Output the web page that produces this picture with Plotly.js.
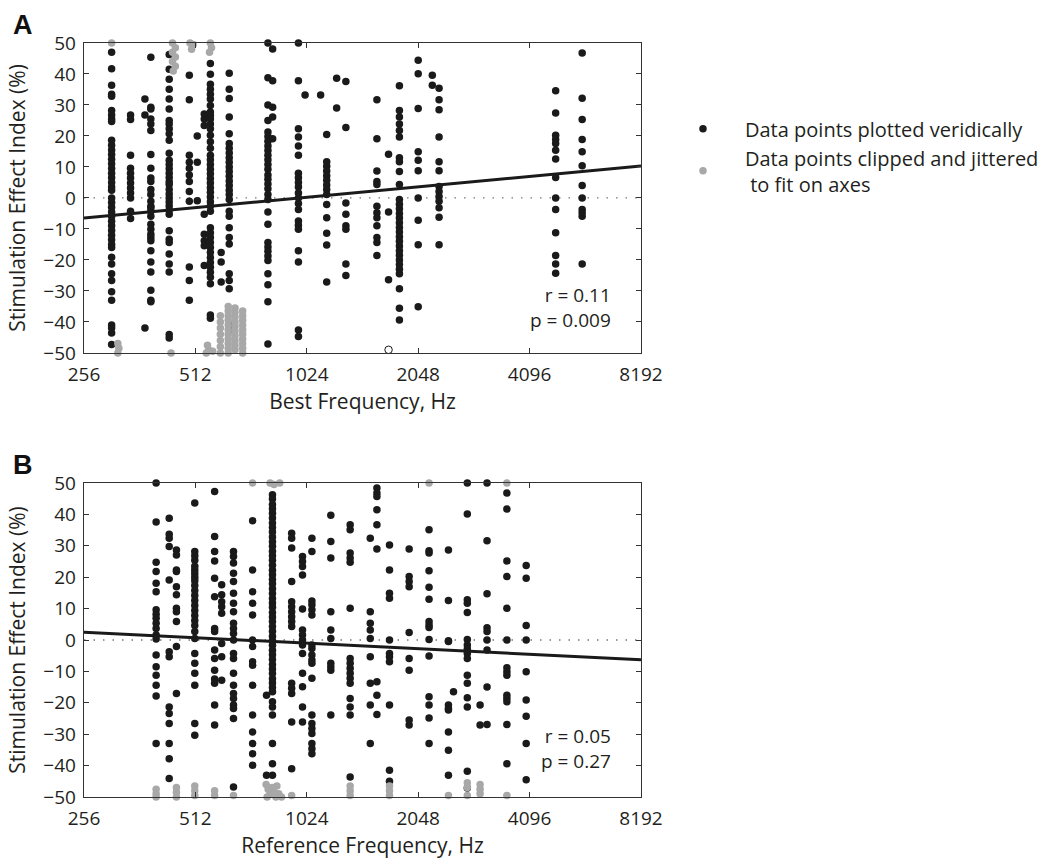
<!DOCTYPE html>
<html>
<head>
<meta charset="utf-8">
<script src="https://cdn.plot.ly/plotly-3.0.1.min.js"></script>
<style>html,body{margin:0;padding:0;background:#fff;overflow:hidden;width:1040px;height:859px;}#chart{width:1080px;height:859px;}</style>
</head>
<body>
<div id="chart"></div>
<script>
// ---------- tick labels ----------
const xTickVals = [256, 512, 1024, 2048, 4096, 8192];
const xTickText = ['256', '512', '1024', '2048', '4096', '8192'];
const yTickVals = [-50, -40, -30, -20, -10, 0, 10, 20, 30, 40, 50];

// ---------- Panel A: veridical points (column frequency, values) ----------
const aFreq = [304, 342, 374, 388, 435, 493, 518, 541, 562, 601, 632, 804, 828, 972, 1013, 1116, 1159, 1233, 1306, 1584, 1703, 1822, 2048, 2236, 2332, 4817, 5681];
const aVals = [
  [47, 41.7, 36.4, 33.5, 32.8, 28.2, 26.8, 25.5, 24.7, 18.6, 17, 15.5, 14, 12.5, 11, 9.5, 8, 6.5, 5, 3.5, 2.5, 0, -1.5, -3, -4.5, -6, -7.5, -9, -10.5, -12, -13.5, -15, -16, -19.1, -21.3, -24.5, -26.6, -30.3, -33, -41, -42, -43.6, -47.3],
  [26.8, 25.3, 13.8, 9.6, 8, 6.4, 4.8, 3.2, 1.6, 0, -4.3, -6.6],
  [31.9, 26.8, -42],
  [45.4, 29.3, 28.7, 25.5, 23.9, 21.8, 14, 9.6, 6.4, 5.3, 2.7, 1.1, -1.1, -2.7, -3.2, -4.3, -5.9, -8.5, -10.1, -11.7, -12.8, -13.8, -17, -20.7, -23.9, -29.8, -33, -33.5],
  [46.3, 41.5, 38.3, 35.1, 31.9, 28.7, 25, 23.9, 22.3, 20.7, 18.6, 14.4, 12.2, 10.8, 9.4, 8, 6.6, 5.2, 4.3, 2.7, 1.3, 0, -1.3, -2.6, -4, -5.3, -10.6, -13.3, -14.4, -18.1, -21.3, -23.9, -44.1, -45.2],
  [39.6, 31.7, 13.8, 11.5, 9.6, 7.4, 5.3, 2.1, -1.1, -22.3, -26.6, -33],
  [20, 11.5, -0.9],
  [27.1, 25.5, 23.4, -5.3, -11.7, -13.8, -15.4, -21.8],
  [43.4, 39.9, 36.7, 35.1, 33.5, 31.9, 29.8, 27.7, 26.6, 25.5, 23.9, 22.3, 20.2, 18.1, 16, 13.8, 12.3, 10.8, 9.3, 7.8, 6.3, 4.8, 3.3, 1.8, 0.3, -1.2, -2.7, -4.3, -9.6, -11.2, -12.8, -14.4, -16, -17.6, -19.2, -20.8, -22.4, -24, -25.6, -27.7, -37.8, -38.8],
  [-17.6, -20.7, -27.1],
  [40.2, 35.1, 32.1, 26.1, 20.7, 17.6, 16, 14.5, 13, 11.5, 10, 8.5, 7, 5.5, 4, 2.5, 1.1, -0.5, -4.3, -5.9, -9.6, -12.8, -14.9, -24.5, -26.6, -29.3, -41, -42.6],
  [50, 38.8, 30, 25, 21.3, 19.8, 18.3, 16.8, 15.3, 13.8, 12.3, 10.8, 9.3, 7.4, 6, 4.5, 3, 1.1, -0.5, -4.5, -8.5, -14.4, -15.8, -17.2, -18.7, -20.2, -24.5, -28, -33.5, -47.1],
  [48.1, 37.8, 29.3, 26.1, 19.1],
  [50, 37.8, 22.3, 19.7, 16.8, 13.8, 8, 6.5, 5, 3.5, 1.6, 0, -1.8, -3.7, -7.4, -8.8, -10.1, -17, -20.7, -42.6, -44.7],
  [33.2],
  [33.2],
  [20.5, 11.7, 10.2, 8.7, 7.2, 5.7, 4.2, 2.7, 1.1, -2.1, -6.4, -11.4, -15.2, -27.1],
  [38.6, 29],
  [37.6, 22.7, -1.6, -5.3, -9, -10.1, -21.3, -25],
  [31.7, 19.1, 8.7, 5.3, 4.3, -2.7, -4.8, -6.4, -9, -12.8, -14.4, -18.6],
  [14.1, -4.5, -26.4],
  [36.2, 28.2, 26.1, 23.9, 21.8, 19.7, 13, 11.7, 8.5, 4.3, -0.5, -2, -3.5, -5, -6.5, -8, -9.5, -11, -12.5, -14, -15.5, -17, -18.5, -20, -21.5, -23, -24.5, -29.3, -35.6, -39.4],
  [44.4, 40.1, 28.9, 14.9, 12.2, 8.8, 0, -7.2, -15.1, -35.1],
  [39.6, 36.4],
  [35.4, 31.7, 28.5, 19.7, 11.7, 8.8, 3.7, 2.1, 0.5, -1.1, -3.2, -6.2, -15.1],
  [34.6, 27.4, 20.2, 18.9, 17.6, 15.4, 12.6, 6.6, 0, -3.7, -11.2, -18.6, -21.3, -24.3],
  [46.8, 32.2, 25.3, 18.9, 14.9, 10.4, 4, 0, -3.7, -4.8, -5.9, -21.3]
];

// ---------- Panel A: clipped & jittered points ----------
const aGreyX = [304, 444, 452, 444, 452, 444, 452, 446, 495, 505, 500, 562, 566, 559,
  316, 318, 316, 440, 552, 556, 548, 570,
  598, 598, 598, 598, 598, 598, 598,
  628, 628, 628, 628, 628, 628, 628, 628, 628, 628, 628,
  655, 655, 655, 655, 655, 655, 655, 655, 655, 655,
  687, 687, 687, 687, 687, 687, 687, 687, 687, 687];
const aGreyY = [50, 50, 48.5, 47, 45.5, 44, 42.5, 41, 50, 49.5, 48, 50, 48.5, 47,
  -47, -48.5, -50, -50, -47.5, -49, -50, -49.5,
  -38, -40, -42, -44, -46, -48, -50,
  -35, -36.5, -38, -39.5, -41, -42.5, -44, -45.5, -47, -48.5, -50,
  -35.5, -37, -38.5, -40, -41.5, -43, -44.5, -46, -47.5, -49,
  -36.5, -38, -39.5, -41, -42.5, -44, -45.5, -47, -48.5, -50];

// open (hollow) point in panel A
const aOpenX = [1703];
const aOpenY = [-49];

// regression line A
const aFitX = [256, 8192];
const aFitY = [-6.5, 10.3];

// ---------- Panel B: veridical points ----------
const bFreq = [401, 435, 455, 510, 577, 603, 649, 731, 797, 827, 932, 997, 1057, 1189, 1341, 1520, 1584, 1713, 1936, 2191, 2472, 2551, 2780, 3010, 3143, 3556, 4010];
const bVals = [
  [50, 37.6, 24.8, 21.8, 18.1, 15.4, 9.6, 8.2, 6.9, 5.3, 3.7, 1.6, 0.3, -4.8, -8.5, -11.2, -14.4, -17.8, -33],
  [38.8, 33.7, 32.4, 29.8, 19.1, -3.7, -5.3, -21.3, -23.4, -26.6, -33, -37.8, -44.1],
  [28.7, 27.1, 22.3, 21.8, 17, 14.4, 10.1, 9, 5.9, -2.1, -17],
  [43.6, 28.2, 26.8, 25.4, 23.5, 22.3, 21.2, 20, 18.9, 17.4, 15.8, 14.2, 12.6, 11, 9.4, 7.8, 6.2, 4.6, 2.7, 0.5, -4.3, -7.4, -10.6, -14.4, -26.6, -30.3],
  [47.3, 33, 28.2, 25.2, 19.7, 13.8, 3.7, 2.7, -3.2, -5.9, -9.6, -12.4, -13.8, -20.7, -27.1],
  [17.6, 14.4, 12.2, 10.6, 8.5, -1.1, -5.3, -12.8],
  [28.2, 26.6, 24.5, 21.3, 18.6, 14.9, 11.7, 9, 5.3, 3.7, 2.1, 0, -4.3, -5.9, -10.6, -14.4, -17, -18.6, -20.7, -21.8, -25, -46.8],
  [38, 22.3, 15.4, 11.7, 8, 0, -2.1, -6.9, -8, -14.4, -23.9, -29.3, -33, -36.2, -39.9],
  [-17.6, -43.1],
  [46.3, 44.9, 43.2, 41.8, 40.4, 38.9, 37.3, 35.8, 34.4, 32.8, 31.3, 29.9, 28.3, 26.8, 25.4, 23.8, 22.2, 20.8, 19.3, 17.9, 16.3, 14.8, 13.2, 11.8, 10.4, 8.8, 7.3, 5.9, 4.3, 2.8, 1.2, -0.2, -1.7, -3.3, -4.7, -6.2, -7.8, -9.2, -10.7, -12.3, -13.7, -15.1, -16.5, -19.7, -21.3, -23.9, -33, -39.4, -43.1],
  [34, 32.4, 29.3, 18.6, 12.2, 10.6, 9, 7.4, 5.9, 4.3, -13.8, -15.4, -17, -26.1, -41],
  [26.6, 25, 23.4, 20.7, 9.9, 3.2, 1.6, 0, -1.6, -4.3, -10.6, -14.9, -21.3, -26.1],
  [32.4, 28.2, 12.4, 11.2, 9.6, 8, -1.6, -2.7, -4.8, -6.4, -7.4, -12.2, -23.9, -26.6, -28.2, -29.8, -33, -34.6, -36.2],
  [39.7, 31.4, 26.1, 9, 3.2, 0.5, -7.4, -8.5, -9.6, -23.9],
  [36.7, 35.1, 27.7, 26.1, 24.8, 10.1, -5.9, -7.4, -9, -10.6, -12.2, -13.8, -18.6, -21.3, -23.9, -43.6],
  [32.4, 9, 5.3, 3.2, 0.5, -5.3, -13.8, -20.7, -33],
  [48.4, 46.8, 45.7, 41.5, 36.7, 29, -13.3, -17.6, -23.7],
  [30.3, 22.3, 14.9, 13.3, 0, -4.3, -5.3, -6.9, -20.7, -41.5, -45],
  [29, 20.2, 18.6, 17, 2.4, -5.9, -9.6, -25.5, -27.1],
  [35.1, 28.4, 27.7, 22.1, 16.8, 13, 5.9, 4.8, 4, 0.2, -5.1, -18.1, -20.7, -24.8, -33],
  [28.7, 12.6, -0.2, -0.5, -20.7, -21.8, -22.3, -29.3, -35.1, -43.1],
  [-16.5],
  [50, 40.1, 12.8, 11.7, 8.8, 0.2, -1.6, -2.9, -4.3, -5.9, -11.2, -13.8, -18.4, -21.3, -41.8, -47.1],
  [-20.7, -27.1],
  [50, 31.6, 14.7, 3.9, 2.7, 0, -3.2, -15, -26.9],
  [46.8, 41.7, 25.2, 20.2, 10.1, 0, -8.8, -10.1, -11.2, -17.6, -18.6, -19.7, -26.9, -39.4],
  [23.7, 19.7, 4.6, 0, -10.1, -19.1, -24.3, -33, -44.5]
];

// ---------- Panel B: clipped & jittered points ----------
const bGreyX = [731, 815, 835, 865, 2191, 3556,
  401, 401, 401, 455, 455, 455, 510, 510, 510, 577, 577, 649,
  795, 805, 815, 825, 835, 845, 860, 875, 800, 850,
  932, 1341, 1341, 1341, 1713, 1713, 1713, 2472, 2780, 2780, 2780, 3010, 3010, 3010, 3556];
const bGreyY = [50, 50, 49.5, 50, 50, 50,
  -47.5, -49, -50, -47, -48.5, -50, -46.5, -48, -49.5, -48, -49.5, -49.5,
  -46, -47.5, -49, -47, -48.5, -50, -49, -50, -50, -46.5,
  -49.5, -46.5, -48, -49.5, -46.5, -48, -49.5, -49.5, -45.5, -47, -49.5, -46, -47.5, -49, -49.5];

// regression line B
const bFitX = [256, 8192];
const bFitY = [2.5, -6.3];

// ---------- flatten helpers ----------
function flatX(freqs, vals) { const o = []; freqs.forEach((f, i) => vals[i].forEach(() => o.push(f))); return o; }
function flatY(vals) { const o = []; vals.forEach(v => v.forEach(y => o.push(y))); return o; }

const BLACK = '#1a1a1a', GREY = '#a8a8a8', TXT = '#231f20', FONT = 'Open Sans, sans-serif';
const MS = 7.5;

const traces = [
  {x: aFitX, y: aFitY, xaxis: 'x', yaxis: 'y', mode: 'lines', line: {color: BLACK, width: 3}, showlegend: false, hoverinfo: 'skip'},
  {x: flatX(aFreq, aVals), y: flatY(aVals), xaxis: 'x', yaxis: 'y', mode: 'markers', type: 'scatter',
   marker: {color: BLACK, size: MS}, cliponaxis: false, name: 'Data points plotted veridically', showlegend: true},
  {x: aGreyX, y: aGreyY, xaxis: 'x', yaxis: 'y', mode: 'markers', type: 'scatter',
   marker: {color: GREY, size: MS}, cliponaxis: false, name: 'Data points clipped and jittered<br>\u00A0to fit on axes', showlegend: true},
  {x: aOpenX, y: aOpenY, xaxis: 'x', yaxis: 'y', mode: 'markers', type: 'scatter',
   marker: {color: BLACK, size: MS, symbol: 'circle-open', line: {width: 1}}, cliponaxis: false, showlegend: false},
  {x: bFitX, y: bFitY, xaxis: 'x2', yaxis: 'y2', mode: 'lines', line: {color: BLACK, width: 3}, showlegend: false, hoverinfo: 'skip'},
  {x: flatX(bFreq, bVals), y: flatY(bVals), xaxis: 'x2', yaxis: 'y2', mode: 'markers', type: 'scatter',
   marker: {color: BLACK, size: MS}, cliponaxis: false, showlegend: false},
  {x: bGreyX, y: bGreyY, xaxis: 'x2', yaxis: 'y2', mode: 'markers', type: 'scatter',
   marker: {color: GREY, size: MS}, cliponaxis: false, showlegend: false}
];

function xAxis(title, anchor) {
  return {
    type: 'log', range: [Math.log10(256), Math.log10(8192)], domain: [0, 1], anchor: anchor,
    tickvals: xTickVals, ticktext: xTickText, ticks: 'inside', ticklen: 5, tickwidth: 1, tickcolor: '#333',
    showline: true, linecolor: '#333', linewidth: 1.3, mirror: 'ticks', showgrid: false, zeroline: false,
    tickfont: {family: FONT, size: 19, color: TXT}, ticklabelstandoff: 4,
    title: {text: title, font: {family: FONT, size: 21, color: TXT}, standoff: 6}
  };
}
function yAxis(domain, anchor) {
  return {
    range: [-50, 50], domain: domain, anchor: anchor,
    tickvals: yTickVals, ticks: 'inside', ticklen: 5, tickwidth: 1, tickcolor: '#333',
    showline: true, linecolor: '#333', linewidth: 1.3, mirror: 'ticks', showgrid: false, zeroline: false,
    tickfont: {family: FONT, size: 19, color: TXT}, ticklabelstandoff: 3,
    title: {text: 'Stimulation Effect Index (%)', font: {family: FONT, size: 21, color: TXT}, standoff: 12}
  };
}

const layout = {
  width: 1080, height: 859,
  margin: {l: 84, r: 439, t: 43, b: 62},
  paper_bgcolor: '#fff', plot_bgcolor: '#fff',
  font: {family: FONT, color: TXT},
  xaxis: xAxis('Best Frequency, Hz', 'y'),
  yaxis: yAxis([0.589, 1], 'x'),
  xaxis2: xAxis('Reference Frequency, Hz', 'y2'),
  yaxis2: yAxis([0, 0.4164], 'x2'),
  showlegend: true,
  legend: {x: 1.0359, y: 0.912, xanchor: 'left', yanchor: 'top', font: {family: FONT, size: 20, color: TXT},
           bgcolor: 'rgba(0,0,0,0)', itemsizing: 'trace', itemwidth: 74},
  shapes: [
    {type: 'line', xref: 'x domain', yref: 'y', x0: 0, x1: 1, y0: 0, y1: 0, layer: 'below',
     line: {color: '#777', width: 1.3, dash: '1.5px,8px'}},
    {type: 'line', xref: 'x2 domain', yref: 'y2', x0: 0, x1: 1, y0: 0, y1: 0, layer: 'below',
     line: {color: '#777', width: 1.3, dash: '1.5px,8px'}}
  ],
  annotations: [
    {text: '<b>A</b>', xref: 'paper', yref: 'paper', x: -0.1095, y: 1.024, xanchor: 'center', yanchor: 'middle', showarrow: false,
     font: {family: 'Liberation Sans, Arial, sans-serif', size: 27, color: '#111'}},
    {text: '<b>B</b>', xref: 'paper', yref: 'paper', x: -0.1095, y: 0.4403, xanchor: 'center', yanchor: 'middle', showarrow: false,
     font: {family: 'Liberation Sans, Arial, sans-serif', size: 27, color: '#111'}},
    {text: 'r = 0.11<br>p = 0.009', xref: 'x domain', yref: 'y domain', x: 0.9497, y: (353 - 308) / 310, xanchor: 'right', yanchor: 'middle', align: 'right', showarrow: false,
     font: {family: FONT, size: 19, color: TXT}},
    {text: 'r = 0.05<br>p = 0.27', xref: 'x2 domain', yref: 'y2 domain', x: 0.9497, y: (797 - 748) / 314, xanchor: 'right', yanchor: 'middle', align: 'right', showarrow: false,
     font: {family: FONT, size: 19, color: TXT}}
  ]
};

Plotly.newPlot('chart', traces, layout, {displayModeBar: false, staticPlot: true});
</script>
</body>
</html>
